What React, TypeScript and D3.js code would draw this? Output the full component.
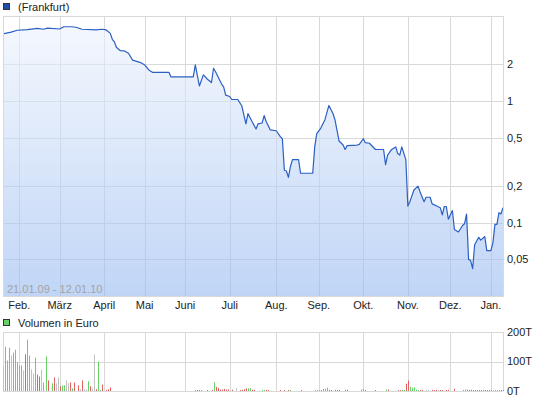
import React from "react";
import * as d3 from "d3";

const W = 545;
const H = 401;

// trading calendar (Frankfurt)
const firstDay = "2009-01-21";
const lastDay = "2010-01-12";
const holidays = ["2009-04-10", "2009-04-13", "2009-05-01", "2009-12-24", "2009-12-25", "2009-12-31", "2010-01-01"];

const monthLabels = ["Feb.", "März", "April", "Mai", "Juni", "Juli", "Aug.", "Sep.", "Okt.", "Nov.", "Dez.", "Jan."];
const priceTicks = [2, 1, 0.5, 0.2, 0.1, 0.05];
const priceTickLabels = ["2", "1", "0,5", "0,2", "0,1", "0,05"];
const volumeTicks = [0, 100, 200];
const volumeTickLabels = ["0T", "100T", "200T"];

// [trading day index, price in EUR]
const pricePoints: [number, number][] = [
  [0, 3.56], [4, 3.69], [7, 3.82], [12, 3.86], [17, 3.96], [20, 3.89], [22, 3.98], [28, 3.91],
  [30, 4.08], [34, 4.08], [36, 4.04], [39, 3.89], [46, 3.84], [49, 3.89], [51, 3.84], [53, 3.6],
  [54, 3.22], [55, 3.07], [56, 2.77], [58, 2.59], [60, 2.58], [62, 2.47], [64, 2.17], [66, 2.12],
  [68, 2.07], [70, 1.98], [72, 1.8], [74, 1.72], [82, 1.72], [83, 1.58], [94, 1.58], [95, 1.98],
  [97, 1.33], [99, 1.64], [101, 1.51], [103, 1.42], [104, 1.86], [105, 1.74], [107, 1.49], [108, 1.38],
  [109, 1.31], [110, 1.12], [112, 1.09], [113, 1.03], [116, 1.03], [118, 0.91], [120, 0.65], [121, 0.79],
  [123, 0.68], [125, 0.59], [126, 0.65], [128, 0.66], [129, 0.76], [130, 0.68], [132, 0.58], [135, 0.57],
  [137, 0.51], [138, 0.49], [139, 0.27], [140, 0.266], [141, 0.236], [142, 0.29], [143, 0.33], [146, 0.33],
  [147, 0.255], [153, 0.255], [154, 0.42], [155, 0.54], [157, 0.6], [159, 0.7], [161, 0.92], [163, 0.79],
  [164, 0.7], [166, 0.47], [168, 0.435], [169, 0.4], [170, 0.43], [175, 0.435], [176, 0.44], [178, 0.49],
  [179, 0.455], [181, 0.45], [184, 0.4], [188, 0.4], [189, 0.3], [190, 0.36], [192, 0.4], [194, 0.42],
  [195, 0.37], [196, 0.36], [197, 0.42], [199, 0.33], [200, 0.137], [201, 0.149], [203, 0.186], [205, 0.2],
  [206, 0.18], [208, 0.149], [209, 0.162], [211, 0.162], [212, 0.143], [214, 0.138], [216, 0.133], [217, 0.116],
  [218, 0.136], [219, 0.136], [220, 0.107], [222, 0.126], [223, 0.088], [225, 0.084], [227, 0.095], [228, 0.098],
  [229, 0.118], [230, 0.05], [231, 0.049], [232, 0.042], [233, 0.066], [235, 0.076], [236, 0.072], [238, 0.077],
  [239, 0.059], [241, 0.059], [242, 0.068], [243, 0.097], [244, 0.097], [245, 0.121], [246, 0.118], [247, 0.133],
];

// volume in thousand EUR, one per trading day
const volumes = [
  83, 150, 103, 147, 120, 130, 140, 97, 87, 87,
  70, 124, 174, 120, 73, 60, 113, 56, 49, 73,
  29, 117, 36, 0, 26, 46, 26, 46, 16, 19,
  19, 36, 26, 29, 9, 29, 0, 19, 6, 36,
  6, 6, 33, 16, 9, 124, 6, 100, 2, 22,
  0, 2, 6, 12, 0, 0, 0, 0, 0, 0,
  0, 0, 0, 0, 0, 0, 0, 0, 0, 0,
  0, 0, 0, 0, 0, 0, 0, 0, 0, 0,
  0, 0, 0, 0, 0, 0, 0, 0, 0, 0,
  0, 0, 0, 0, 0, 2, 2, 2, 2, 0,
  0, 2, 0, 3, 30, 14, 10, 5, 5, 7,
  5, 5, 0, 4, 0, 10, 0, 2, 4, 6,
  9, 9, 9, 4, 4, 0, 0, 0, 4, 4,
  4, 2, 0, 0, 0, 0, 0, 2, 0, 2,
  0, 2, 2, 0, 0, 0, 0, 2, 0, 0,
  0, 0, 0, 0, 2, 2, 2, 2, 7, 7,
  11, 4, 2, 0, 4, 4, 2, 0, 0, 4,
  4, 0, 0, 0, 0, 0, 0, 5, 7, 2,
  0, 0, 0, 0, 2, 0, 0, 0, 0, 5,
  5, 0, 0, 0, 0, 2, 2, 4, 3, 25,
  35, 15, 11, 12, 5, 2, 2, 4, 0, 2,
  2, 0, 4, 2, 4, 2, 2, 2, 0, 2,
  2, 0, 0, 8, 0, 0, 0, 4, 5, 4,
  4, 4, 3, 2, 2, 2, 2, 4, 2, 2,
  2, 2, 2, 2, 2, 2, 2, 2,
];

// g = up, r = down, n = unchanged, . = no trade
const volumeDirections = [
  "ngggnggggg", "nrggnngrrn", "ggr.grnnrg", "gnnrgr.rnr", "nngrnnrggr",
  ".rrr......", "..........", "..........", "..........", ".....grrg.",
  ".r.rgrrrrr", "rr.r.n.rrr", "rggrr...gg", "rr.....r.r", ".rg....r..",
  "....gggrgg", "grr.rrr..r", "r......ggr", "....r....g", "r....rrggr",
  "rgggggrr.n", "n.rrrnrr.r", "r..r...ggr", "rrrrrrrgrr", "rgngggrr",
].join("");

const dirColor: Record<string, string> = { g: "#66d166", r: "#e06262", n: "#c2c2c2", ".": "none" };

function buildTradingDays(): Date[] {
  const out: Date[] = [];
  const hol = new Set(holidays);
  const d = new Date(firstDay + "T00:00:00Z");
  const end = new Date(lastDay + "T00:00:00Z");
  while (d <= end) {
    const wd = d.getUTCDay();
    const iso = d.toISOString().slice(0, 10);
    if (wd !== 0 && wd !== 6 && !hol.has(iso)) out.push(new Date(d));
    d.setUTCDate(d.getUTCDate() + 1);
  }
  return out;
}

const FONT = "'Liberation Sans', Arial, Helvetica, sans-serif";

export default function App() {
  const days = buildTradingDays();
  const monthStarts: number[] = [];
  days.forEach((d, i) => {
    if (i > 0 && d.getUTCMonth() !== days[i - 1].getUTCMonth()) monthStarts.push(i);
  });

  const left = 3, right = 503;
  const top = 16, bottom = 296;
  const vTop = 332, vBottom = 391;

  const x = d3.scaleLinear().domain([0, days.length - 1]).range([left, right]);
  const y = d3.scaleLog().domain([0.025, 5]).range([bottom, top]);
  const yv = d3.scaleLinear().domain([0, 200]).range([vBottom, vTop]);

  const line = d3.line<[number, number]>().x((d) => x(d[0])).y((d) => y(d[1]));
  const area = d3.area<[number, number]>().x((d) => x(d[0])).y0(bottom).y1((d) => y(d[1]));

  const px = (v: number) => Math.round(v) + 0.5;
  const grid = "#d9d9d9";

  return (
    <svg width={W} height={H} style={{ position: "absolute", left: 0, top: 0, background: "#fff" }} fontFamily={FONT}>
      <defs>
        <linearGradient id="fillGrad" gradientUnits="userSpaceOnUse" x1="0" y1={top} x2="0" y2={bottom}>
          <stop offset="0%" stopColor="#f0f5fd" stopOpacity={0.6} />
          <stop offset="100%" stopColor="#96b9f0" stopOpacity={0.6} />
        </linearGradient>
      </defs>

      {/* main legend */}
      <rect x={3.5} y={3.5} width={6} height={6} fill="#1f4fa8" stroke="#333" strokeWidth={1} />
      <text x={18} y={11} fontSize={11} fill="#222">(Frankfurt)</text>

      {/* main grid */}
      {monthStarts.map((i) => (
        <line key={"vg" + i} x1={px(x(i))} x2={px(x(i))} y1={top} y2={bottom} stroke={grid} />
      ))}
      {priceTicks.map((t) => (
        <line key={"hg" + t} x1={left} x2={right} y1={px(y(t))} y2={px(y(t))} stroke={grid} />
      ))}

      {/* area + line */}
      <path d={area(pricePoints) || ""} fill="url(#fillGrad)" />
      <path d={line(pricePoints) || ""} fill="none" stroke="#2a5fc4" strokeWidth={1.2} strokeLinejoin="round" />

      {/* frame */}
      <rect x={left + 0.5} y={top + 0.5} width={right - left} height={bottom - top} fill="none" stroke={grid} />

      <text x={7} y={293} fontSize={11} fill="#a3a3a3">21.01.09 - 12.01.10</text>

      {/* price axis labels */}
      {priceTicks.map((t, k) => (
        <text key={"pl" + t} x={507} y={y(t)} dy="0.35em" fontSize={11} fill="#222">{priceTickLabels[k]}</text>
      ))}

      {/* month labels */}
      {monthStarts.map((i, k) => (
        <text key={"ml" + i} x={x(i)} y={309} fontSize={11} fill="#222" textAnchor="middle">{monthLabels[k]}</text>
      ))}

      {/* volume legend */}
      <rect x={3.5} y={319.5} width={6} height={6} fill="#66d166" stroke="#333" strokeWidth={1} />
      <text x={18} y={327} fontSize={11} fill="#222">Volumen in Euro</text>

      {/* volume grid */}
      {monthStarts.map((i) => (
        <line key={"vvg" + i} x1={px(x(i))} x2={px(x(i))} y1={vTop} y2={vBottom} stroke={grid} />
      ))}
      {volumeTicks.map((t) => (
        <line key={"vhg" + t} x1={left} x2={right} y1={px(yv(t))} y2={px(yv(t))} stroke={grid} />
      ))}
      <line x1={px(left)} x2={px(left)} y1={vTop} y2={vBottom} stroke={grid} />
      <line x1={px(right)} x2={px(right)} y1={vTop} y2={vBottom} stroke={grid} />

      {/* volume bars */}
      {volumes.map((v, i) => {
        if (!v) return null;
        const yTop = yv(v);
        const h = Math.max(1, vBottom - yTop);
        return (
          <rect key={"vb" + i} x={Math.round(x(i))} y={vBottom - h} width={1} height={h}
            fill={dirColor[volumeDirections[i]] || "#c2c2c2"} />
        );
      })}

      {volumeTicks.map((t, k) => (
        <text key={"vl" + t} x={507} y={yv(t)} dy="0.35em" fontSize={11} fill="#222">{volumeTickLabels[k]}</text>
      ))}
    </svg>
  );
}
